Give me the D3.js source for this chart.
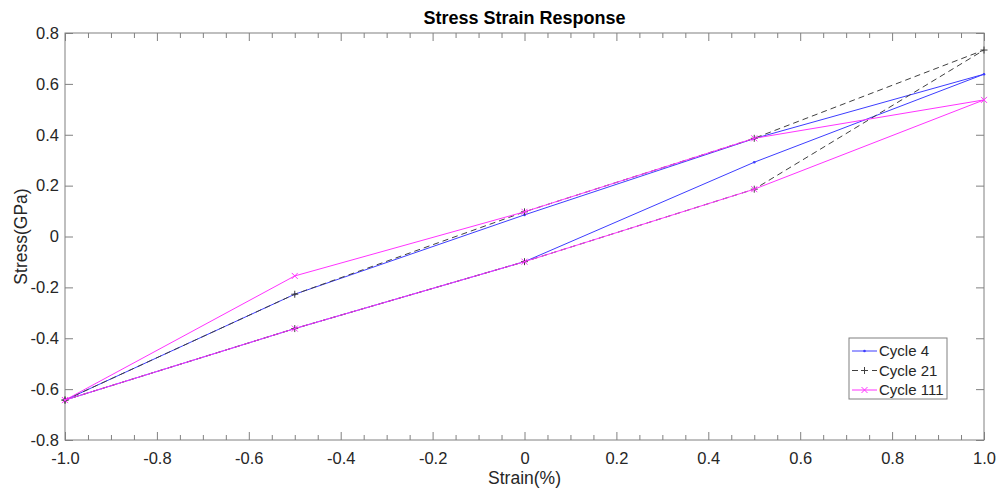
<!DOCTYPE html>
<html>
<head>
<meta charset="utf-8">
<script src="https://cdn.jsdelivr.net/npm/d3@7"></script>
<style>
  body { margin: 0; background: #fff; }
  svg { font-family: "Liberation Sans", Arial, sans-serif; }
</style>
</head>
<body>
<svg id="canvas"></svg>
<script>
// strain points, going up then back down (loop)
let strain = [-1, -0.5, 0, 0.5, 1, 0.5, 0, -0.5, -1];
let cycle4 = [-0.643, -0.227, 0.085, 0.385, 0.638, 0.292, -0.099, -0.362, -0.643];
let cycle21 = [-0.643, -0.227, 0.097, 0.386, 0.733, 0.186, -0.099, -0.362, -0.643];
let cycle111 = [-0.643, -0.155, 0.097, 0.386, 0.537, 0.186, -0.099, -0.362, -0.643];
let seriesNames = ['Cycle 4', 'Cycle 21', 'Cycle 111'];
let xTicks = [-1, -0.8, -0.6, -0.4, -0.2, 0, 0.2, 0.4, 0.6, 0.8, 1];
let yTicks = [-0.8, -0.6, -0.4, -0.2, 0, 0.2, 0.4, 0.6, 0.8];

let width = 998;
let height = 490;
let padLeft = 65, padRight = 984, padTop = 33, padBottom = 440;

let svg = d3.select('#canvas').attr('width', width).attr('height', height);

let xScale = d3.scaleLinear().domain([-1, 1]).range([padLeft, padRight]);
let yScale = d3.scaleLinear().domain([-0.8, 0.8]).range([padBottom, padTop]);

let axisColor = '#808080';
let textColor = '#262626';

// matlab style: plain hyphen, "0" without decimals
let fmt = (d) => d === 0 ? '0' : d.toFixed(1);

let minorX = d3.range(-1, 1.0001, 0.05).map(d => +d.toFixed(2)).filter(d => !xTicks.some(t => Math.abs(t - d) < 1e-6));

// box + ticks
let drawAxes = () => {
  let g = svg.append('g');
  g.append('rect').attr('x', padLeft).attr('y', padTop).attr('width', padRight - padLeft).attr('height', padBottom - padTop)
    .attr('fill', 'none').attr('stroke', axisColor).attr('stroke-width', 1);

  let xb = d3.axisBottom(xScale).tickValues(xTicks).tickFormat(fmt).tickSizeInner(-8).tickSizeOuter(0).tickPadding(12);
  let xAxis = g.append('g').attr('transform', 'translate(0,' + padBottom + ')').call(xb);
  let xt = d3.axisTop(xScale).tickValues(xTicks).tickFormat('').tickSizeInner(-8).tickSizeOuter(0);
  g.append('g').attr('transform', 'translate(0,' + padTop + ')').call(xt);
  // minor x ticks
  let xm = d3.axisBottom(xScale).tickValues(minorX).tickFormat('').tickSizeInner(-5).tickSizeOuter(0);
  g.append('g').attr('transform', 'translate(0,' + padBottom + ')').call(xm);
  let xmt = d3.axisTop(xScale).tickValues(minorX).tickFormat('').tickSizeInner(-5).tickSizeOuter(0);
  g.append('g').attr('transform', 'translate(0,' + padTop + ')').call(xmt);

  let yl = d3.axisLeft(yScale).tickValues(yTicks).tickFormat(fmt).tickSizeInner(-8).tickSizeOuter(0).tickPadding(6);
  g.append('g').attr('transform', 'translate(' + padLeft + ',0)').call(yl);
  let yr = d3.axisRight(yScale).tickValues(yTicks).tickFormat('').tickSizeInner(-8).tickSizeOuter(0);
  g.append('g').attr('transform', 'translate(' + padRight + ',0)').call(yr);

  g.selectAll('.domain').remove();
  g.selectAll('.tick line').attr('stroke', axisColor);
  g.selectAll('.tick text').attr('fill', textColor).style('font-size', '16.5px').style('font-family', '"Liberation Sans", Arial, sans-serif');
  xAxis.selectAll('.tick text').attr('dy', '0.71em');
}

let series = [
  { name: seriesNames[0], values: cycle4, color: '#3d3dff', dash: null, marker: 'dot' },
  { name: seriesNames[1], values: cycle21, color: '#404040', dash: '6,4', marker: 'plus' },
  { name: seriesNames[2], values: cycle111, color: '#ff33ff', dash: null, marker: 'cross' }
];

let drawMarker = (g, type, x, y, color) => {
  if (type === 'dot') {
    g.append('circle').attr('cx', x).attr('cy', y).attr('r', 1.3).attr('fill', color);
  } else if (type === 'plus') {
    g.append('path').attr('d', 'M' + (x - 3.5) + ',' + y + 'H' + (x + 3.5) + 'M' + x + ',' + (y - 3.5) + 'V' + (y + 3.5))
      .attr('stroke', color).attr('stroke-width', 1).attr('fill', 'none');
  } else {
    g.append('path').attr('d', 'M' + (x - 3) + ',' + (y - 3) + 'L' + (x + 3) + ',' + (y + 3) + 'M' + (x - 3) + ',' + (y + 3) + 'L' + (x + 3) + ',' + (y - 3))
      .attr('stroke', color).attr('stroke-width', 1).attr('fill', 'none');
  }
}

let drawLines = () => {
  let line = d3.line().x((d, i) => xScale(strain[i])).y(d => yScale(d));
  series.forEach(s => {
    let g = svg.append('g');
    g.append('path').datum(s.values).attr('d', line)
      .attr('fill', 'none').attr('stroke', s.color).attr('stroke-width', 1)
      .attr('stroke-dasharray', s.dash);
    s.values.forEach((v, i) => drawMarker(g, s.marker, xScale(strain[i]), yScale(v), s.color));
  });
}

let drawLegend = () => {
  let g = svg.append('g');
  g.append('rect').attr('x', 849).attr('y', 338).attr('width', 98).attr('height', 61)
    .attr('fill', '#fff').attr('stroke', axisColor).attr('stroke-width', 1);
  series.forEach((s, i) => {
    let y = 351 + i * 19.5;
    g.append('line').attr('x1', 852).attr('x2', 877).attr('y1', y).attr('y2', y)
      .attr('stroke', s.color).attr('stroke-width', 1).attr('stroke-dasharray', s.dash);
    drawMarker(g, s.marker, 864.5, y, s.color);
    g.append('text').attr('x', 879).attr('y', y + 5).text(s.name)
      .attr('fill', textColor).style('font-size', '15px');
  });
}

let drawLabels = () => {
  svg.append('text').attr('x', (padLeft + padRight) / 2).attr('y', 24).attr('text-anchor', 'middle')
    .style('font-size', '18px').style('font-weight', 'bold').attr('fill', '#000').text('Stress Strain Response');
  svg.append('text').attr('x', (padLeft + padRight) / 2).attr('y', 484).attr('text-anchor', 'middle')
    .style('font-size', '17.5px').attr('fill', textColor).text('Strain(%)');
  svg.append('text').attr('transform', 'translate(27,' + ((padTop + padBottom) / 2) + ') rotate(-90)')
    .attr('text-anchor', 'middle').style('font-size', '17.5px').attr('fill', textColor).text('Stress(GPa)');
}

drawAxes();
drawLines();
drawLegend();
drawLabels();
</script>
</body>
</html>
